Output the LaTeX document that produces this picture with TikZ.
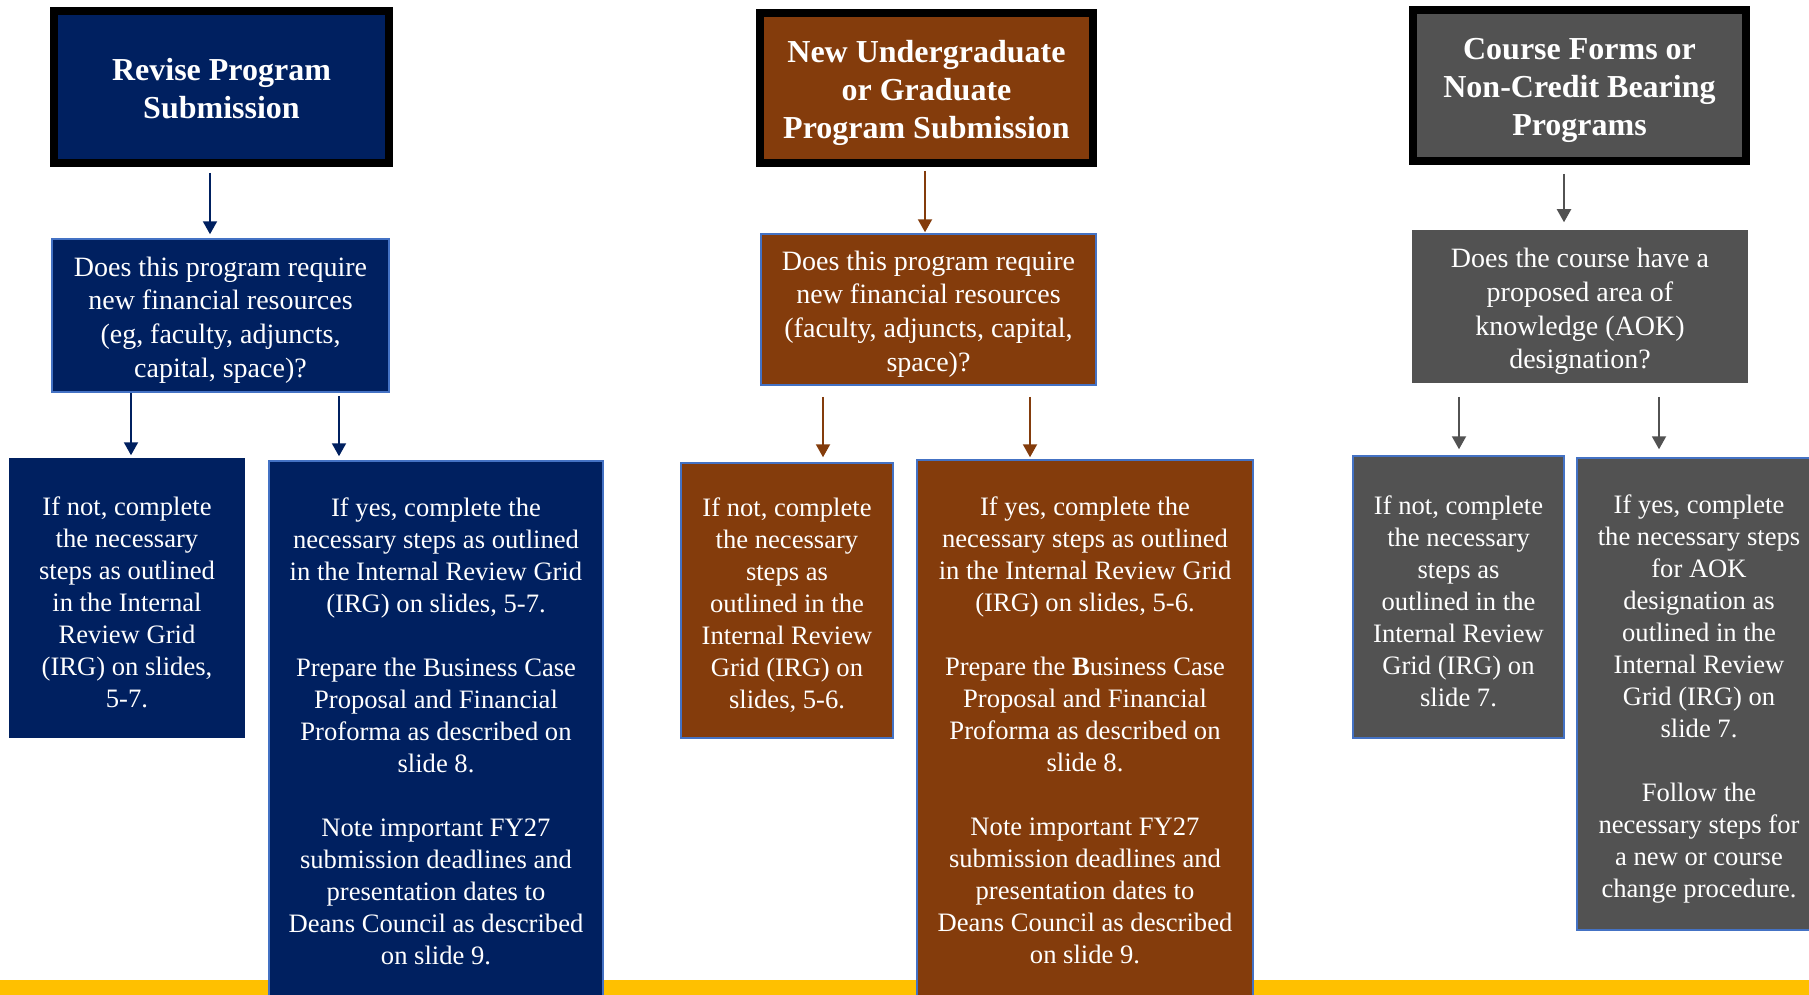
\documentclass[tikz,border=0pt]{standalone}
\usepackage{fontspec}
\setmainfont{Liberation Serif}
\usetikzlibrary{arrows.meta,calc}
\definecolor{navy}{HTML}{002060}
\definecolor{rust}{HTML}{843C0C}
\definecolor{slate}{HTML}{525252}
\definecolor{edgeblue}{HTML}{4472C4}
\definecolor{gold}{HTML}{FFC000}
\newcommand{\boxtext}[2][-4.5pt]{\raisebox{#1}[\height][\depth]{\begin{tabular}{@{}c@{}}#2\end{tabular}}}
\begin{document}
\begin{tikzpicture}[x=1pt,y=-1pt,
  hdr/.style={draw=black, line width=8pt, text=white, inner sep=0pt,
    font=\fontsize{32}{38}\selectfont\bfseries},
  qbox/.style={text=white, inner sep=0pt, line width=1.5pt,
    font=\fontsize{28}{33.8}\selectfont},
  bbox/.style={text=white, inner sep=0pt, line width=1.5pt,
    font=\fontsize{26.6}{32}\selectfont},
  arr/.style={line width=2pt, -{Triangle[width=14pt,length=13pt]}},
]
\useasboundingbox (0,0) rectangle (1809,995);
\clip (0,0) rectangle (1809,995);
\fill[white] (0,0) rectangle (1809,995);
\fill[gold] (0,980) rectangle (1809,995);

% Column 1
\node[hdr, fill=navy, minimum width=335pt, minimum height=152pt] (h1) at (221.5,87)
  {\boxtext[-5pt]{Revise Program\\Submission}};
\node[qbox, fill=navy, draw=edgeblue, minimum width=337pt, minimum height=153pt] (q1) at (220.5,315.5)
  {\boxtext{Does this program require\\new financial resources\\(eg, faculty, adjuncts,\\capital, space)?}};
\node[bbox, fill=navy, minimum width=236pt, minimum height=280pt] (n1) at (127,598)
  {\boxtext[-7pt]{If not, complete\\the necessary\\steps as outlined\\in the Internal\\Review Grid\\(IRG) on slides,\\5-7.}};
\node[bbox, fill=navy, draw=edgeblue, minimum width=334pt, minimum height=539pt] (y1) at (436,730.5)
  {\boxtext[-3.5pt]{If yes, complete the\\necessary steps as outlined\\in the Internal Review Grid\\(IRG) on slides, 5-7.\\[32pt]Prepare the Business Case\\Proposal and Financial\\Proforma as described on\\slide 8.\\[32pt]Note important FY27\\submission deadlines and\\presentation dates to\\Deans Council as described\\on slide 9.}};

% Column 2
\node[hdr, fill=rust, minimum width=333pt, minimum height=150pt] (h2) at (926.5,88)
  {\boxtext{New Undergraduate\\or Graduate\\Program Submission}};
\node[qbox, fill=rust, draw=edgeblue, minimum width=335pt, minimum height=151pt] (q2) at (928.5,309.5)
  {\boxtext{Does this program require\\new financial resources\\(faculty, adjuncts, capital,\\space)?}};
\node[bbox, fill=rust, draw=edgeblue, minimum width=212pt, minimum height=275pt] (n2) at (787,600.5)
  {\boxtext[-5.5pt]{If not, complete\\the necessary\\steps as\\outlined in the\\Internal Review\\Grid (IRG) on\\slides, 5-6.}};
\node[bbox, fill=rust, draw=edgeblue, minimum width=336pt, minimum height=540pt] (y2) at (1085,730)
  {\boxtext[-3.5pt]{If yes, complete the\\necessary steps as outlined\\in the Internal Review Grid\\(IRG) on slides, 5-6.\\[32pt]Prepare the \textbf{B}usiness Case\\Proposal and Financial\\Proforma as described on\\slide 8.\\[32pt]Note important FY27\\submission deadlines and\\presentation dates to\\Deans Council as described\\on slide 9.}};

% Column 3
\node[hdr, fill=slate, minimum width=333pt, minimum height=151pt] (h3) at (1579.5,85.5)
  {\boxtext{Course Forms or\\Non-Credit Bearing\\Programs}};
\node[qbox, fill=slate, minimum width=336pt, minimum height=153pt] (q3) at (1580,306.5)
  {\boxtext[-5pt]{Does the course have a\\proposed area of\\knowledge (AOK)\\designation?}};
\node[bbox, fill=slate, draw=edgeblue, minimum width=211pt, minimum height=282pt] (n3) at (1458.5,597)
  {\boxtext[-7pt]{If not, complete\\the necessary\\steps as\\outlined in the\\Internal Review\\Grid (IRG) on\\slide 7.}};
\node[bbox, fill=slate, draw=edgeblue, minimum width=244pt, minimum height=472pt] (y3) at (1699,694)
  {\boxtext[-5pt]{If yes, complete\\the necessary steps\\for AOK\\designation as\\outlined in the\\Internal Review\\Grid (IRG) on\\slide 7.\\[32pt]Follow the\\necessary steps for\\a new or course\\change procedure.}};

% Arrows column 1
\draw[arr, navy, shorten <=6pt, shorten >=4pt] ($(h1.south)+(-11.5,0)$) -- ($(h1.south |- q1.north)+(-11.5,0)$);
\draw[arr, navy, shorten <=0pt, shorten >=2pt] ($(q1.south)+(-89.5,0)$) -- ($(q1.south |- n1.north)+(-89.5,0)$);
\draw[arr, navy, shorten <=3pt, shorten >=4pt] ($(q1.south)+(118.5,0)$) -- ($(q1.south |- y1.north)+(118.5,0)$);

% Arrows column 2
\draw[arr, rust, shorten <=4pt, shorten >=1pt] ($(h2.south)+(-1.5,0)$) -- ($(h2.south |- q2.north)+(-1.5,0)$);
\draw[arr, rust, shorten <=11pt, shorten >=5pt] ($(q2.south)+(-105.5,0)$) -- ($(q2.south |- n2.north)+(-105.5,0)$);
\draw[arr, rust, shorten <=11pt, shorten >=2pt] ($(q2.south)+(101.5,0)$) -- ($(q2.south |- y2.north)+(101.5,0)$);

% Arrows column 3
\draw[arr, slate, shorten <=9pt, shorten >=7pt] ($(h3.south)+(-15.5,0)$) -- ($(h3.south |- q3.north)+(-15.5,0)$);
\draw[arr, slate, shorten <=13pt, shorten >=6pt] ($(q3.south)+(-121,0)$) -- ($(q3.south |- n3.north)+(-121,0)$);
\draw[arr, slate, shorten <=13pt, shorten >=8pt] ($(q3.south)+(79,0)$) -- ($(q3.south |- y3.north)+(79,0)$);
\end{tikzpicture}
\end{document}
